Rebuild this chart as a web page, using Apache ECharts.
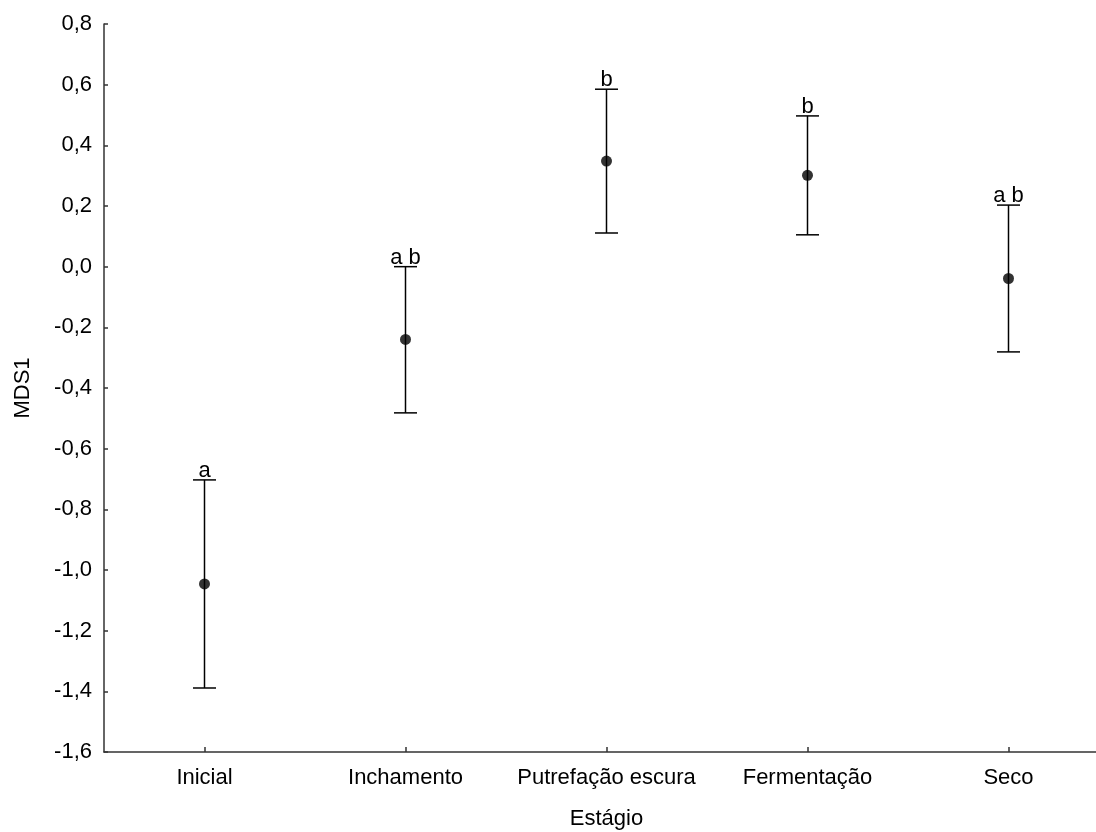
<!DOCTYPE html>
<html>
<head>
<meta charset="utf-8">
<script src="https://cdn.jsdelivr.net/npm/echarts@6/dist/echarts.min.js"></script>
<style>html,body{margin:0;padding:0;background:#fff}#c{width:1096px;height:832px}</style>
</head>
<body>
<div id="c"></div>
<script>
const categories = ['Inicial', 'Inchamento', 'Putrefação escura', 'Fermentação', 'Seco'];
const means = [-1.046, -0.240, 0.348, 0.301, -0.039];
const lowers = [-1.389, -0.482, 0.111, 0.105, -0.281];
const uppers = [-0.703, 0.000, 0.585, 0.497, 0.203];
const letters = ['a', 'a b', 'b', 'b', 'a b'];
const yTicks = { min: -1.6, max: 0.8, interval: 0.2 };

const FONT = 'Liberation Sans, Arial, sans-serif';
const chart = echarts.init(document.getElementById('c'));

const errData = categories.map((c, i) => [i, lowers[i], uppers[i], letters[i]]);
const meanData = categories.map((c, i) => [i, means[i]]);

chart.setOption({
  animation: false,
  backgroundColor: '#fff',
  grid: { left: 104, top: 24, width: 1005, height: 728, containLabel: false, outerBoundsMode: 'none' },
  xAxis: {
    type: 'category',
    data: categories,
    boundaryGap: true,
    name: 'Estágio',
    nameLocation: 'middle',
    nameGap: 56,
    nameTextStyle: { fontFamily: FONT, fontSize: 22, color: '#000' },
    axisLine: { onZero: false, lineStyle: { color: '#333', width: 1.5 } },
    axisTick: { show: true, inside: true, length: 5, interval: 0, alignWithLabel: true, lineStyle: { color: '#333', width: 1.5 } },
    axisLabel: { interval: 0, fontFamily: FONT, fontSize: 22, color: '#000', margin: 15 },
    splitLine: { show: false }
  },
  yAxis: {
    type: 'value',
    min: yTicks.min,
    max: yTicks.max,
    interval: yTicks.interval,
    name: 'MDS1',
    nameLocation: 'middle',
    nameGap: 70,
    nameRotate: 90,
    nameTextStyle: { fontFamily: FONT, fontSize: 22, color: '#000' },
    axisLine: { show: true, onZero: false, lineStyle: { color: '#333', width: 1.5 } },
    axisTick: { show: true, inside: true, length: 4, lineStyle: { color: '#333', width: 1.5 } },
    axisLabel: {
      fontFamily: FONT, fontSize: 22, color: '#000', margin: 12,
      formatter: v => v.toFixed(1).replace('.', ',')
    },
    splitLine: { show: false }
  },
  series: [
    {
      type: 'custom',
      data: errData,
      encode: { x: 0, y: [1, 2] },
      renderItem: function (params, api) {
        const x = api.value(0);
        const lo = api.coord([x, api.value(1)]);
        const hi = api.coord([x, api.value(2)]);
        const half = 11.5;
        const st = { stroke: '#000', lineWidth: 1.5 };
        return {
          type: 'group',
          children: [
            { type: 'line', shape: { x1: lo[0], y1: lo[1], x2: hi[0], y2: hi[1] }, style: st },
            { type: 'line', shape: { x1: hi[0] - half, y1: hi[1], x2: hi[0] + half, y2: hi[1] }, style: st },
            { type: 'line', shape: { x1: lo[0] - half, y1: lo[1], x2: lo[0] + half, y2: lo[1] }, style: st },
            { type: 'text', style: { text: api.value(3), x: hi[0], y: hi[1] + 2, align: 'center', verticalAlign: 'bottom', fill: '#000', fontFamily: FONT, fontSize: 22 } }
          ]
        };
      },
      z: 2
    },
    {
      type: 'scatter',
      data: meanData,
      symbol: 'circle',
      symbolSize: 11,
      itemStyle: { color: '#000' },
      z: 3
    }
  ]
});
</script>
</body>
</html>
